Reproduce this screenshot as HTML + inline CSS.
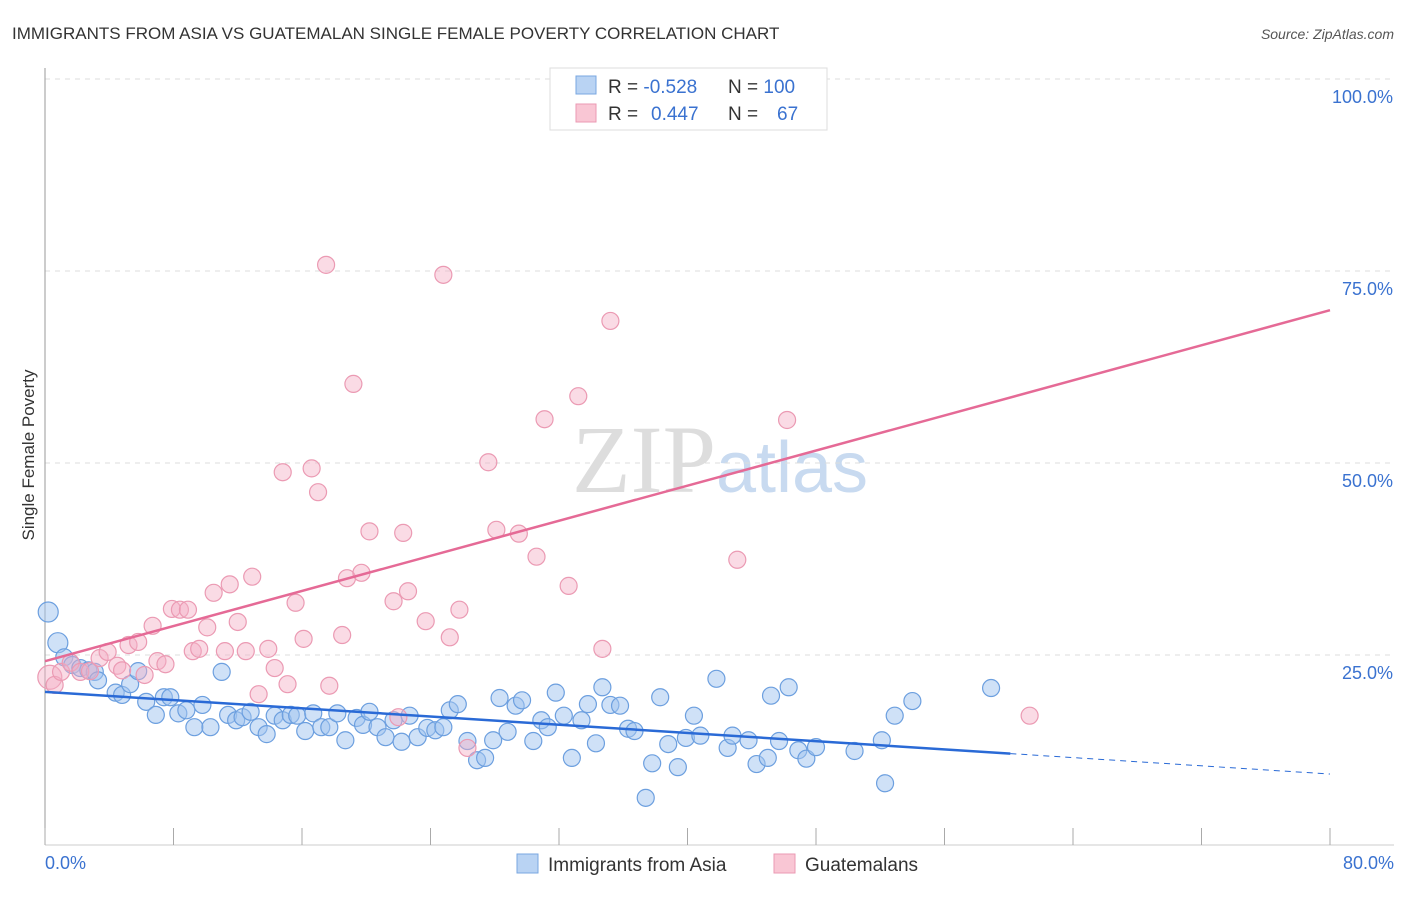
<!DOCTYPE html>
<html><head><meta charset="utf-8"><style>
body{margin:0;background:#fff;font-family:"Liberation Sans",sans-serif}
</style></head><body>
<svg width="1406" height="892" xmlns="http://www.w3.org/2000/svg" font-family="Liberation Sans, sans-serif">
<text x="12" y="39" font-size="17" fill="#333">IMMIGRANTS FROM ASIA VS GUATEMALAN SINGLE FEMALE POVERTY CORRELATION CHART</text>
<text x="1394" y="39" font-size="14" fill="#555" font-style="italic" text-anchor="end">Source: ZipAtlas.com</text>
<text x="720" y="492" font-size="96" fill="#ddd" text-anchor="middle" font-family="Liberation Serif, serif">ZIP<tspan fill="#c8daf0" font-family="Liberation Sans, sans-serif" font-size="72">atlas</tspan></text>
<g id="grid"></g>
<g id="axes"></g>
<g id="marks"></g>
<text transform="translate(34,455) rotate(-90)" font-size="17" fill="#333" text-anchor="middle">Single Female Poverty</text>
<g>
<rect x="550" y="68" width="277" height="62" fill="#fff" stroke="#ddd"/>
<rect x="576" y="76" width="20" height="18" fill="#b9d3f3" stroke="#79a7e0"/>
<rect x="576" y="104" width="20" height="18" fill="#f9c6d4" stroke="#eb9ab3"/>
<text x="608" y="93" font-size="19" fill="#333">R = <tspan fill="#3a72d0">-0.528</tspan></text>
<text x="728" y="93" font-size="19" fill="#333">N = <tspan fill="#3a72d0">100</tspan></text>
<text x="608" y="120" font-size="19" fill="#333">R = <tspan fill="#3a72d0" x="651">0.447</tspan></text>
<text x="728" y="120" font-size="19" fill="#333">N = <tspan fill="#3a72d0" x="777">67</tspan></text>
</g>
<g>
<rect x="517" y="854" width="21" height="19" fill="#b9d3f3" stroke="#79a7e0"/>
<text x="548" y="871" font-size="19" fill="#333">Immigrants from Asia</text>
<rect x="774" y="854" width="21" height="19" fill="#f9c6d4" stroke="#eb9ab3"/>
<text x="805" y="871" font-size="19" fill="#333">Guatemalans</text>
</g>
</svg>
<script>
const yTicks=[25,50,75,100];
const yTickLabels=["25.0%","50.0%","75.0%","100.0%"];
const xTicks=[0,8,16,24,32,40,48,56,64,72,80];
const blueX=[0.2,0.8,1.2,1.7,2.2,2.7,3.1,3.3,4.4,4.8,5.3,5.8,6.3,6.9,7.4,7.8,8.3,8.8,9.3,9.8,10.3,11.0,11.4,11.9,12.3,12.8,13.3,13.8,14.3,14.8,15.3,15.7,16.2,16.7,17.2,17.7,18.2,18.7,19.4,19.8,20.2,20.7,21.2,21.7,22.2,22.7,23.2,23.8,24.3,24.8,25.2,25.7,26.3,26.9,27.4,27.9,28.3,28.8,29.3,29.7,30.4,30.9,31.3,31.8,32.3,32.8,33.4,33.8,34.3,34.7,35.2,35.8,36.3,36.7,37.4,37.8,38.3,38.8,39.4,39.9,40.4,40.8,41.8,42.5,42.8,43.8,44.3,45.0,45.2,45.7,46.3,46.9,47.4,48.0,50.4,52.1,52.3,52.9,54.0,58.9];
const blueY=[30.6,26.6,24.7,23.7,23.3,23.0,22.8,21.7,20.1,19.8,21.2,22.9,18.9,17.2,19.5,19.5,17.4,17.8,15.6,18.5,15.6,22.8,17.2,16.5,16.9,17.6,15.6,14.7,17.1,16.5,17.2,17.1,15.1,17.4,15.6,15.6,17.4,13.9,16.8,15.9,17.6,15.6,14.3,16.5,13.7,17.1,14.3,15.5,15.2,15.6,17.8,18.6,13.8,11.3,11.6,13.9,19.4,15.0,18.4,19.1,13.8,16.5,15.6,20.1,17.1,11.6,16.5,18.6,13.5,20.8,18.5,18.4,15.4,15.1,6.4,10.9,19.5,13.4,10.4,14.2,17.1,14.5,21.9,12.9,14.5,13.9,10.8,11.6,19.7,13.8,20.8,12.6,11.5,13.0,12.5,13.9,8.3,17.1,19.0,20.7];
const pinkX=[0.3,0.6,1.0,1.6,2.2,2.8,3.4,3.9,4.5,4.8,5.2,5.8,6.2,6.7,7.0,7.5,7.9,8.4,8.9,9.2,9.6,10.1,10.5,11.2,11.5,12.0,12.5,12.9,13.3,13.9,14.3,14.8,15.1,15.6,16.1,16.6,17.0,17.5,17.7,18.5,18.8,19.2,19.7,20.2,21.7,22.0,22.3,22.6,23.7,24.8,25.2,25.8,26.3,27.6,28.1,29.5,30.6,31.1,32.6,33.2,34.7,35.2,38.1,43.1,46.2,61.3];
const pinkY=[22.1,21.1,22.8,24.0,22.8,22.9,24.6,25.4,23.6,23.0,26.3,26.7,22.4,28.8,24.2,23.8,31.0,30.9,30.9,25.5,25.8,28.6,33.1,25.5,34.2,29.3,25.5,35.2,19.9,25.8,23.3,48.8,21.2,31.8,27.1,49.3,46.2,75.8,21.0,27.6,35.0,60.3,35.7,41.1,32.0,16.9,40.9,33.3,29.4,74.5,27.3,30.9,12.9,50.1,41.3,40.8,37.8,55.7,34.0,58.7,25.8,68.5,99.9,37.4,55.6,17.1];
const blueTrend=[20.2,9.5]; // y at x=0 and x=80
const blueSolidEnd=60.1;
const pinkTrend=[24.2,69.9];

const NS="http://www.w3.org/2000/svg";
const sx=v=>45+v*(1285/80);
const sy=v=>847-v*7.68;
function mk(tag,attrs,parent){const e=document.createElementNS(NS,tag);for(const k in attrs)e.setAttribute(k,attrs[k]);document.getElementById(parent).appendChild(e);return e;}
yTicks.forEach((t,i)=>{
 const l=mk('line',{x1:45,x2:1394,y1:sy(t),y2:sy(t),stroke:'#ddd','stroke-dasharray':'5,5'},'grid');
 
 
 const tx=mk('text',{x:1393,y:sy(t)+24,'font-size':18,fill:'#3a72d0','text-anchor':'end'},'grid');
 tx.textContent=yTickLabels[i];
 
 
});
const ya=mk('line',{x1:45,x2:45,y1:68,y2:845,stroke:'#999'},'axes');


const xa=mk('line',{x1:45,x2:1394,y1:845,y2:845,stroke:'#ccc'},'axes');


xTicks.forEach(t=>{
 const l=mk('line',{x1:sx(t),x2:sx(t),y1:828,y2:845,stroke:'#aaa'},'axes');
 
 
});
const xl0=mk('text',{x:45,y:869,'font-size':18,fill:'#3a72d0'},'axes');xl0.textContent='0.0%';


const xl1=mk('text',{x:1394,y:869,'font-size':18,fill:'#3a72d0','text-anchor':'end'},'axes');xl1.textContent='80.0%';


blueX.forEach((x,i)=>{
 const c=mk('circle',{cx:sx(x),cy:sy(blueY[i]),r:x<1?10:8.5,fill:'rgba(160,196,240,0.5)',stroke:'#6c9fdf','stroke-width':1.2},'marks');
 
 
});
pinkX.forEach((x,i)=>{
 const c=mk('circle',{cx:sx(x),cy:sy(pinkY[i]),r:x<0.5?12:8.5,fill:'rgba(245,175,198,0.45)',stroke:'#eb9ab3','stroke-width':1.2},'marks');
 
 
});
const bAt=x=>blueTrend[0]+(blueTrend[1]-blueTrend[0])*x/80;
const bl=mk('line',{x1:sx(0),y1:sy(bAt(0)),x2:sx(blueSolidEnd),y2:sy(bAt(blueSolidEnd)),stroke:'#2a6ad6','stroke-width':2.5},'marks');


const bd=mk('line',{x1:sx(blueSolidEnd),y1:sy(bAt(blueSolidEnd)),x2:sx(80),y2:sy(bAt(80)),stroke:'#2a6ad6','stroke-width':1,'stroke-dasharray':'6,5'},'marks');


const pl=mk('line',{x1:sx(0),y1:sy(pinkTrend[0]),x2:sx(80),y2:sy(pinkTrend[1]),stroke:'#e56a96','stroke-width':2.5},'marks');


</script>
</body></html>
